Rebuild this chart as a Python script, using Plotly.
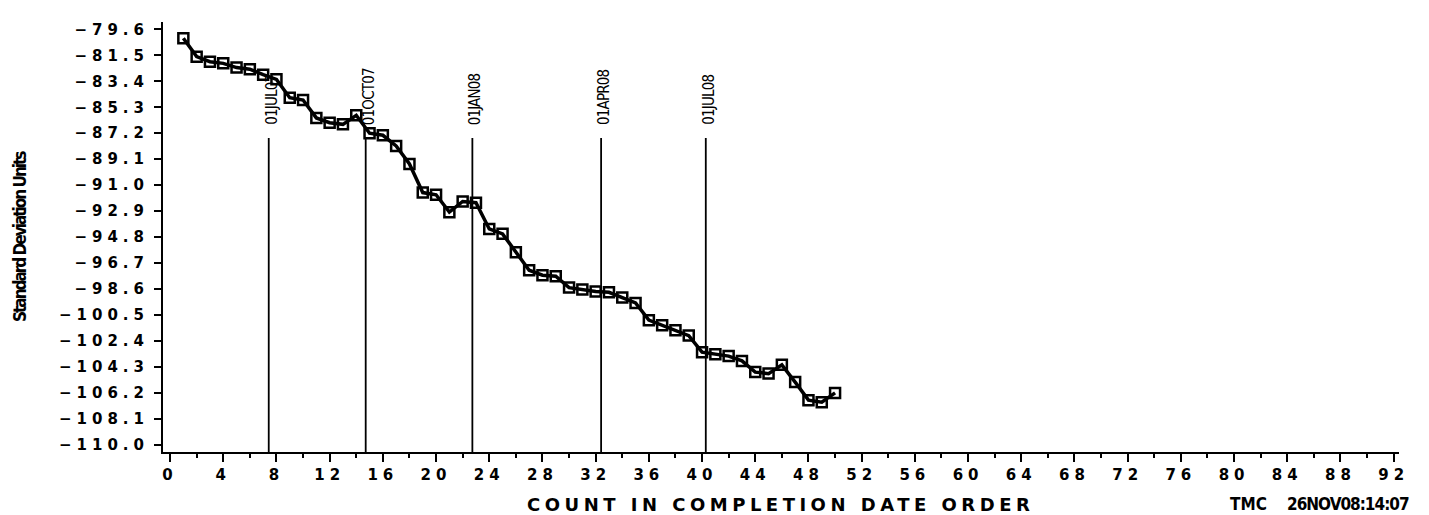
import plotly.graph_objects as go

# ---- data ----
count = [1, 2, 3, 4, 5, 6, 7, 8, 9, 10,
         11, 12, 13, 14, 15, 16, 17, 18, 19, 20,
         21, 22, 23, 24, 25, 26, 27, 28, 29, 30,
         31, 32, 33, 34, 35, 36, 37, 38, 39, 40,
         41, 42, 43, 44, 45, 46, 47, 48, 49, 50]
std_units = [-80.26, -81.60, -81.97, -82.09, -82.40, -82.52, -82.92, -83.26, -84.60, -84.77,
             -86.08, -86.43, -86.55, -85.89, -87.20, -87.35, -88.13, -89.45, -91.54, -91.70,
             -92.97, -92.19, -92.28, -94.20, -94.56, -95.90, -97.22, -97.58, -97.66, -98.49,
             -98.63, -98.78, -98.83, -99.22, -99.61, -100.87, -101.24, -101.60, -102.00, -103.21,
             -103.36, -103.50, -103.85, -104.67, -104.78, -104.14, -105.40, -106.72, -106.87, -106.19]

ref_labels = ["01JUL07", "01OCT07", "01JAN08", "01APR08", "01JUL08"]
ref_positions = [7.42, 14.71, 22.73, 32.41, 40.28]

y_tickvals = [-79.6, -81.5, -83.4, -85.3, -87.2, -89.1, -91.0, -92.9, -94.8,
              -96.7, -98.6, -100.5, -102.4, -104.3, -106.2, -108.1, -110.0]
y_ticklabels = ["\u221279.6", "\u221281.5", "\u221283.4", "\u221285.3", "\u221287.2",
                "\u221289.1", "\u221291.0", "\u221292.9", "\u221294.8", "\u221296.7",
                "\u221298.6", "\u2212100.5", "\u2212102.4", "\u2212104.3", "\u2212106.2",
                "\u2212108.1", "\u2212110.0"]
x_tickvals = [0, 4, 8, 12, 16, 20, 24, 28, 32, 36, 40, 44, 48, 52, 56, 60,
              64, 68, 72, 76, 80, 84, 88, 92]
x_ticklabels = ["0", "4", "8", "12", "16", "20", "24", "28", "32", "36", "40", "44",
                "48", "52", "56", "60", "64", "68", "72", "76", "80", "84", "88", "92"]

x_title = "COUNT IN COMPLETION DATE ORDER"
y_title = "Standard Deviation Units"
footer_id = "TMC"
footer_date = "26NOV08:14:07"

# ---- layout geometry (page pixels; the page body has an 8px margin) ----
OFF = 8
PAGE_W, PAGE_H = 1429, 515
PLOT_L, PLOT_R, PLOT_T, PLOT_B = 163, 1399, 22, 452
W, H = PAGE_W - OFF, PAGE_H - OFF
L, T = PLOT_L - OFF, PLOT_T - OFF
R, B = W - (PLOT_R - OFF), H - (PLOT_B - OFF)
PW, PH = PLOT_R - PLOT_L, PLOT_B - PLOT_T


def px_x(px):
    return (px - PLOT_L) / PW


def px_y(py):
    return (PLOT_B - py) / PH


def spaced(t, ls):
    return "<span style='letter-spacing:%spx'>%s</span>" % (ls, t)


TICK_FONT = dict(family="DejaVu Sans", size=15, color="black", weight="bold")
COND = "DejaVu Sans Condensed"

fig = go.Figure()
fig.add_trace(go.Scatter(
    x=count, y=std_units, mode="lines+markers",
    line=dict(color="black", width=3.5),
    marker=dict(symbol="square-open", size=10, color="black", line=dict(width=2.5, color="black")),
    showlegend=False, hoverinfo="x+y",
))

shapes = []
annotations = []
for lab, pos in zip(ref_labels, ref_positions):
    shapes.append(dict(type="line", xref="x", yref="paper", x0=pos, x1=pos,
                       y0=0, y1=px_y(138), line=dict(color="black", width=1.8)))
    annotations.append(dict(x=pos, xref="x", y=px_y(126), yref="paper",
                            text=spaced(lab, -0.8),
                            textangle=-90, showarrow=False, xanchor="center", yanchor="bottom",
                            xshift=3, borderpad=0,
                            font=dict(family=COND, size=15, color="black")))

# top title box (clipped by the page top)
shapes.append(dict(type="rect", xref="paper", yref="paper",
                   x0=px_x(506.7), x1=px_x(898.3), y0=px_y(4.3), y1=px_y(-30),
                   line=dict(color="black", width=3), fillcolor="rgba(0,0,0,0)"))

annotations.append(dict(x=px_x(780), y=px_y(504), xref="paper", yref="paper",
                        text=spaced(x_title, 4.5), showarrow=False,
                        xanchor="center", yanchor="middle",
                        font=dict(family="DejaVu Sans", size=18, color="black", weight="bold")))
annotations.append(dict(x=px_x(1228), y=px_y(504), xref="paper", yref="paper",
                        text=footer_id, showarrow=False, xanchor="left", yanchor="middle",
                        font=dict(family=COND, size=17, color="black", weight="bold")))
annotations.append(dict(x=px_x(1285), y=px_y(504), xref="paper", yref="paper",
                        text=spaced(footer_date, -1), showarrow=False,
                        xanchor="left", yanchor="middle",
                        font=dict(family=COND, size=17, color="black", weight="bold")))
annotations.append(dict(x=px_x(20), y=px_y(237), xref="paper", yref="paper",
                        text=spaced(y_title, -2), textangle=-90, showarrow=False,
                        xanchor="center", yanchor="middle",
                        font=dict(family=COND, size=17, color="black", weight="bold")))

fig.update_layout(
    width=W, height=H,
    margin=dict(l=L, r=R, t=T, b=B, pad=0),
    paper_bgcolor="white", plot_bgcolor="white",
    shapes=shapes, annotations=annotations,
    xaxis=dict(range=[-0.53, 92.4], showgrid=False, zeroline=False,
               showline=True, linecolor="black", linewidth=2,
               ticks="outside", ticklen=8, tickwidth=2, tickcolor="black",
               tickvals=x_tickvals, ticktext=[spaced(t, 5) for t in x_ticklabels],
               tickfont=TICK_FONT, ticklabelstandoff=0,
               minor=dict(dtick=2, tick0=0, ticks="outside", ticklen=4, tickwidth=2,
                          tickcolor="black", showgrid=False)),
    yaxis=dict(range=[-110.512, -79.066], showgrid=False, zeroline=False,
               showline=True, linecolor="black", linewidth=2,
               ticks="outside", ticklen=7, tickwidth=2, tickcolor="black",
               tickvals=y_tickvals, ticktext=[spaced(t, 5) for t in y_ticklabels],
               tickfont=TICK_FONT, ticklabelstandoff=2),
)

fig.write_html("out.html")
